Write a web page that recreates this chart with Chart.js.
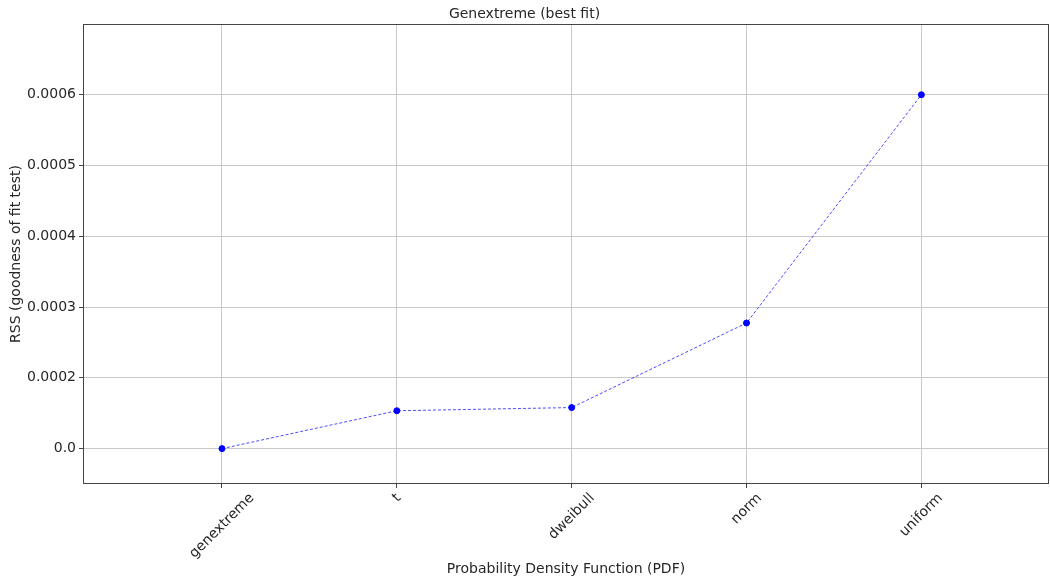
<!DOCTYPE html>
<html lang="en">
<head>
  <meta charset="UTF-8">
  <title>Genextreme (best fit)</title>
  <script src="https://cdn.jsdelivr.net/npm/chart.js"></script>
  <style>
    html, body { margin: 0; padding: 0; background: #fff; }
    #wrap { width: 1050px; height: 582px; }
  </style>
</head>
<body>
  <div id="wrap"><canvas id="chart" width="1050" height="582"></canvas></div>

  <script>
    // distributions, sorted by RSS
    const categories = ['genextreme', 't', 'dweibull', 'norm', 'uniform'];
    const rss = [0.0001, 0.0001535, 0.000158, 0.0002775, 0.0006];

    // y ticks as printed on the original figure
    const yTickValues = [0.0001, 0.0002, 0.0003, 0.0004, 0.0005, 0.0006];
    const yTickLabels = ['0.0', '0.0002', '0.0003', '0.0004', '0.0005', '0.0006'];

    const FONT = 'DejaVu Sans';
    const TEXT = '#262626';

    // full box around the plot, like matplotlib spines
    const frame = {
      id: 'frame',
      afterDraw(chart) {
        const a = chart.chartArea, c = chart.ctx;
        c.save();
        c.strokeStyle = '#444';
        c.lineWidth = 1;
        c.strokeRect(a.left + 0.5, a.top + 0.5, a.right - a.left - 1, a.bottom - a.top - 1);
        c.restore();
      }
    };

    // x labels rotated 45deg, centred under their tick (matplotlib ha='center')
    const xLabels = {
      id: 'xLabels',
      afterDraw(chart) {
        const sx = chart.scales.x, c = chart.ctx;
        const size = 14, cos = Math.SQRT1_2;
        c.save();
        c.font = size + 'px ' + FONT;
        c.fillStyle = TEXT;
        c.textAlign = 'center';
        c.textBaseline = 'middle';
        categories.forEach((label, i) => {
          const w = c.measureText(label).width;
          const bh = (w + size) * cos;
          const px = sx.getPixelForValue(i);
          const top = chart.chartArea.bottom + 7;
          c.save();
          c.translate(px, top + bh / 2);
          c.rotate(-Math.PI / 4);
          c.fillText(label, 0, 0);
          c.restore();
        });
        c.restore();
      }
    };

    new Chart(document.getElementById('chart'), {
      type: 'line',
      data: {
        datasets: [{
          data: categories.map((c, i) => ({ x: i, y: rss[i] })),
          borderColor: 'rgba(0,0,255,0.7)',
          borderWidth: 1,
          borderDash: [3, 2],
          pointBackgroundColor: '#0000ff',
          pointBorderColor: '#0000ff',
          pointRadius: 3,
          tension: 0
        }]
      },
      options: {
        responsive: false,
        animation: false,
        layout: { autoPadding: false, padding: { left: 0, right: 1, top: 0, bottom: 0 } },
        plugins: {
          legend: { display: false },
          tooltip: { enabled: false },
          title: {
            display: true,
            text: 'Genextreme (best fit)',
            color: TEXT,
            font: { family: FONT, size: 14, weight: 'normal' },
            padding: { top: 5.6, bottom: 1.6 }
          }
        },
        scales: {
          x: {
            type: 'linear',
            min: -0.795,
            max: 4.73,
            afterBuildTicks: s => { s.ticks = categories.map((c, i) => ({ value: i })); },
            afterFit: s => { s.height = 98; s.paddingLeft = 0; s.paddingRight = 0; },
            ticks: { display: false },
            grid: { color: '#c8c8c8', tickColor: '#444', tickLength: 4 },
            border: { display: false },
            title: {
              display: true,
              text: 'Probability Density Function (PDF)',
              color: TEXT,
              font: { family: FONT, size: 14 },
              padding: { top: 4, bottom: 4 }
            }
          },
          y: {
            min: 0.00005,
            max: 0.0007,
            afterBuildTicks: s => { s.ticks = yTickValues.map(v => ({ value: v })); },
            afterFit: s => { s.width = 83; s.paddingTop = 0; s.paddingBottom = 0; },
            ticks: {
              callback: (v, i) => yTickLabels[i],
              color: TEXT,
              font: { family: FONT, size: 14 },
              padding: 3
            },
            grid: { color: '#c8c8c8', tickColor: '#444', tickLength: 4 },
            border: { display: false },
            title: {
              display: true,
              text: 'RSS (goodness of fit test)',
              color: TEXT,
              font: { family: FONT, size: 14 },
              padding: { top: 7.6, bottom: 0 }
            }
          }
        }
      },
      plugins: [frame, xLabels]
    });
  </script>
</body>
</html>
